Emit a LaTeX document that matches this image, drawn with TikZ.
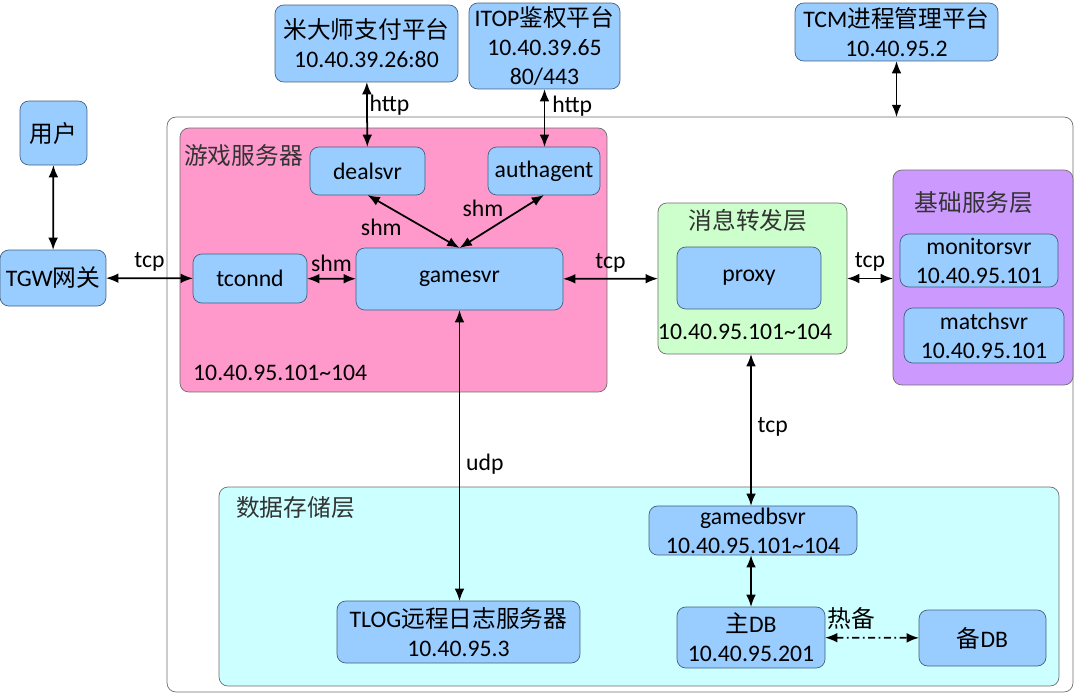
\documentclass[tikz,border=0pt]{standalone}
\usepackage{fontspec}
\setmainfont{Carlito}
\newfontfamily\cjk{Noto Sans CJK SC}
\usepackage{xcolor}
\usetikzlibrary{positioning}
\usetikzlibrary{shapes, arrows.meta}
\definecolor{svrblue}{HTML}{99CCFF}
\definecolor{svredge}{HTML}{44607F}
\definecolor{gamepink}{HTML}{FF99CC}
\definecolor{msggreen}{HTML}{CCFFCC}
\definecolor{basepurple}{HTML}{CC99FF}
\definecolor{dbcyan}{HTML}{CCFFFF}
\definecolor{areaedge}{HTML}{6E6E6E}
\tikzstyle{line} = [draw, {Latex[length=7pt,width=5.5pt]}-{Latex[length=7pt,width=5.5pt]}, line width=1pt]

\begin{document}
\begin{tikzpicture}[x=0.02cm, y=-0.02cm, font=\fontsize{13.5}{16.5}\selectfont,
  svr/.style={draw=svredge, fill=svrblue, rounded corners=5pt, align=center, inner sep=1pt, outer sep=0pt},
  area/.style={draw=areaedge, rounded corners=5pt, outer sep=0pt}]
			\useasboundingbox (0,0) rectangle (1077,697);
			
			% areas
			\node[area, fill=white, minimum width=18.12cm, minimum height=11.5cm] at (620,404.5) (outer) {};
			\node[area, fill=gamepink, minimum width=8.54cm, minimum height=5.28cm] at (393.5,260) (gamearea) {};
			\node[area, fill=msggreen, minimum width=3.78cm, minimum height=3.02cm] at (752.5,278.5) (msgarea) {};
			\node[area, fill=basepurple, minimum width=3.6cm, minimum height=4.3cm] at (983,277.5) (basearea) {};
			\node[area, fill=dbcyan, minimum width=16.8cm, minimum height=3.98cm] at (639,586.5) (dbarea) {};
			
			\node[anchor=west, text=black!80] at (178,156) (gametitle) {\cjk 游戏服务器};
			\node[anchor=west] at (187,373) (gameip) {10.40.95.101\textasciitilde104};
			\node[text=black!80] at (748,220) (msgtitle) {\cjk 消息转发层};
			\node at (745,332) (msgip) {10.40.95.101\textasciitilde104};
			\node[text=black!80] at (974,203) (basetitle) {\cjk 基础服务层};
			\node[anchor=west, text=black!80] at (230,508) (dbtitle) {\cjk 数据存储层};
			
			% outside
			\node[svr, minimum width=1.34cm, minimum height=1.28cm] at (53.5,133) (user) {\cjk 用户};
			\node[svr, minimum width=2.12cm, minimum height=1.12cm] at (53,278) (tgw) {TGW{\cjk 网关}};
			\node[svr, minimum width=3.66cm, minimum height=1.54cm] at (366.5,43.5) (pay) {{\cjk 米大师支付平台}\\10.40.39.26:80};
			\node[svr, minimum width=3.02cm, minimum height=1.72cm] at (544.5,46) (itop) {ITOP{\cjk 鉴权平台}\\10.40.39.65\\80/443};
			\node[svr, minimum width=4.06cm, minimum height=1.16cm] at (896.5,32) (tcm) {TCM{\cjk 进程管理平台}\\10.40.95.2};
			
			% game server
			\node[svr, minimum width=2.3cm, minimum height=0.96cm] at (367.5,171) (deal) {dealsvr};
			\node[svr, minimum width=2.24cm, minimum height=0.96cm] at (544,171) (auth) {authagent};
			\node[svr, minimum width=2.28cm, minimum height=0.98cm] at (250,278.5) (tconnd) {tconnd};
			\node[svr, minimum width=4.14cm, minimum height=1.24cm] at (459.5,279) (gamesvr) {gamesvr};
			
			\node[svr, minimum width=2.88cm, minimum height=1.24cm] at (749,278) (proxy) {proxy};
			\node[svr, minimum width=3.16cm, minimum height=1.06cm] at (979,260.5) (monitor) {monitorsvr\\10.40.95.101};
			\node[svr, minimum width=3.2cm, minimum height=1.1cm] at (984,335.5) (match) {matchsvr\\10.40.95.101};
			
			% storage
			\node[svr, minimum width=4.16cm, minimum height=0.98cm] at (753,530.5) (gamedb) {gamedbsvr\\10.40.95.101\textasciitilde104};
			\node[svr, minimum width=4.86cm, minimum height=1.24cm] at (458.5,632) (tlog) {TLOG{\cjk 远程日志服务器}\\10.40.95.3};
			\node[svr, minimum width=2.96cm, minimum height=1.22cm] at (751,637.5) (masterdb) {{\cjk 主}DB\\10.40.95.201};
			\node[svr, minimum width=2.54cm, minimum height=1.12cm] at (982.5,638) (backupdb) {{\cjk 备}DB};
			
			\path [line] (user) -- (tgw);
			\path [line] (tgw) -- node[above] {tcp} (tconnd);
			\path [line] (tconnd) -- node[above] {shm} (gamesvr);
			\path [line] (deal.south) -- node[below left, pos=0.4, inner sep=1pt] {shm} (gamesvr.north);
			\path [line] (auth.south) -- node[above left, pos=0.45, inner sep=1pt] {shm} (gamesvr.north);
			\path [line] (pay) -- node[right, pos=0.35, inner sep=1pt] {http} (deal);
			\path [line] (itop.south) -- node[right, pos=0.3, inner sep=4pt] {http} (itop.south |- auth.north);
			\path [line] (tcm.south) -- (tcm.south |- outer.north);
			\path [line] (gamesvr) -- node[above] {tcp} (msgarea);
			\path [line] (msgarea) -- node[above] {tcp} (msgarea.east -| basearea.west);
			\path [line] (gamesvr.south) -- node[right, pos=0.53] {udp} (gamesvr.south |- tlog.north);
			\path [line] (msgarea.south -| masterdb.north) -- node[right, pos=0.48] {tcp} (gamedb.north -| masterdb.north);
			\path [line] (gamedb.south -| masterdb.north) -- (masterdb.north);
			\path [line, dash pattern=on 4pt off 2pt on 1pt off 2pt] (masterdb) -- node[pos=0, anchor=south west, yshift=3pt, inner sep=1pt] {\cjk 热备} (backupdb);
			
		\end{tikzpicture}
\end{document}
